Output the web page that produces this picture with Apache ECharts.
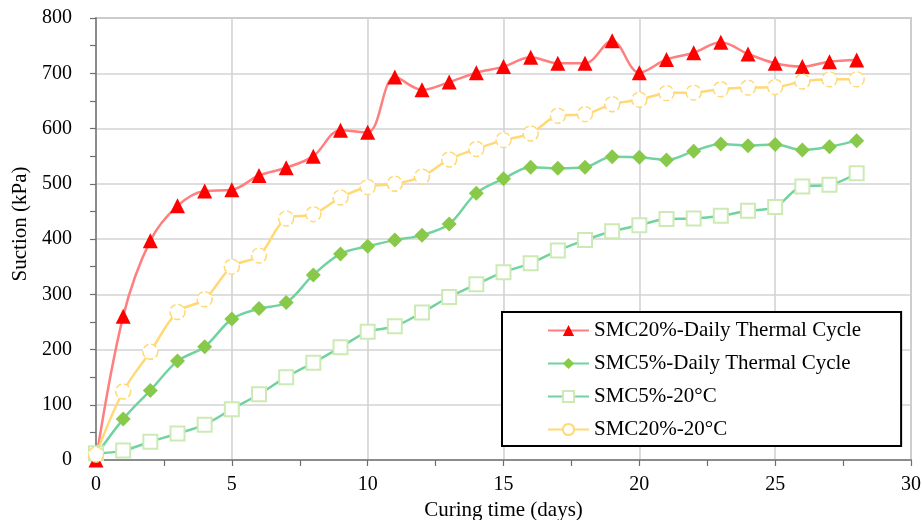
<!DOCTYPE html>
<html>
<head>
<meta charset="utf-8">
<script src="https://cdn.jsdelivr.net/npm/echarts@6/dist/echarts.min.js"></script>
<style>
  html, body { margin: 0; padding: 0; background: #fff; }
  #chart { width: 922px; height: 520px; }
</style>
</head>
<body>
<div id="chart"></div>
<script>
// Curing time in days
const days = [0,1,2,3,4,5,6,7,8,9,10,11,12,13,14,15,16,17,18,19,20,21,22,23,24,25,26,27,28];

// Suction (kPa) for each specimen
const smc20Cycle = [0,260,397,460,487,489,515,529,550,597,593,693,670,684,701,712,729,718,718,759,701,725,737,756,735,718,712,721,724];
const smc5Cycle  = [8,74,126,179,205,255,274,285,335,373,387,398,407,427,483,509,530,528,530,549,548,543,559,572,569,571,561,567,578];
const smc5Const  = [12,17,33,48,64,92,119,150,176,204,232,242,267,295,318,340,356,379,398,414,425,436,437,442,451,458,495,498,519];
const smc20Const = [10,124,196,268,291,350,370,437,445,475,494,500,513,544,563,579,591,623,626,644,652,664,665,671,674,675,685,689,689];

const seriesNames = [
  'SMC20%-Daily Thermal Cycle',
  'SMC5%-Daily Thermal Cycle',
  'SMC5%-20\u00B0C',
  'SMC20%-20\u00B0C'
];

const xTicks = { min: 0, max: 30, interval: 5 };
const yTicks = { min: 0, max: 800, interval: 100 };

const FONT = '"Liberation Serif", "Times New Roman", serif';

function pairs(vals) { return days.map((d, i) => [d, vals[i]]); }

const chart = echarts.init(document.getElementById('chart'), null, { renderer: 'canvas' });

const axisCommon = {
  axisLine: { show: true, lineStyle: { color: '#8c8c8c', width: 2 } },
  axisTick: { show: true, inside: false, length: 6, lineStyle: { color: '#6e6e6e', width: 1.2 } },
  minorTick: { show: true, splitNumber: 2, length: 6, lineStyle: { color: '#6e6e6e', width: 1.2 } },
  splitLine: { show: true, lineStyle: { color: '#d3d3d3', width: 1.6 } },
  axisLabel: { color: '#000', fontFamily: FONT, fontSize: 20 },
  nameTextStyle: { color: '#000', fontFamily: FONT, fontSize: 21 }
};

chart.setOption({
  animation: false,
  backgroundColor: '#fff',
  grid: {
    left: 96, right: 11, top: 18, bottom: 60,
    containLabel: false,
    outerBoundsMode: 'none',
    show: true, borderColor: '#a0a0a0', borderWidth: 1.5
  },
  xAxis: Object.assign({}, axisCommon, {
    type: 'value',
    min: xTicks.min, max: xTicks.max, interval: xTicks.interval,
    name: 'Curing time (days)',
    nameLocation: 'middle',
    nameGap: 37,
    axisLabel: Object.assign({}, axisCommon.axisLabel, { margin: 15 })
  }),
  yAxis: Object.assign({}, axisCommon, {
    type: 'value',
    min: yTicks.min, max: yTicks.max, interval: yTicks.interval,
    name: 'Suction (kPa)',
    nameLocation: 'middle',
    nameGap: 64,
    nameTextStyle: Object.assign({}, axisCommon.nameTextStyle, { padding: [0, 0, 0, 30] }),
    axisLabel: Object.assign({}, axisCommon.axisLabel, { margin: 24 })
  }),
  legend: {
    orient: 'vertical',
    left: 502,
    top: 312,
    padding: [8, 40, 6, 45],
    itemWidth: 41,
    itemHeight: 14,
    itemGap: 12,
    borderColor: '#000',
    borderWidth: 2,
    backgroundColor: '#fff',
    textStyle: { color: '#000', fontFamily: FONT, fontSize: 21 },
    data: seriesNames
  },
  series: [
    {
      name: seriesNames[0],
      type: 'line',
      smooth: 0.35,
      data: pairs(smc20Cycle),
      symbol: 'triangle',
      symbolSize: 15,
      lineStyle: { color: '#ff7f7f', width: 2.5 },
      itemStyle: { color: '#ff0000', borderColor: '#ff0000', borderWidth: 0 }
    },
    {
      name: seriesNames[1],
      type: 'line',
      smooth: 0.35,
      data: pairs(smc5Cycle),
      symbol: 'diamond',
      symbolSize: 15,
      lineStyle: { color: '#72d3a0', width: 2.5 },
      itemStyle: { color: '#88c94a', borderColor: '#88c94a', borderWidth: 0 }
    },
    {
      name: seriesNames[2],
      type: 'line',
      smooth: 0.35,
      data: pairs(smc5Const),
      symbol: 'rect',
      symbolSize: 14,
      lineStyle: { color: '#72d3a0', width: 2.5 },
      itemStyle: { color: '#ffffff', borderColor: '#cdeab4', borderWidth: 2 }
    },
    {
      name: seriesNames[3],
      type: 'line',
      smooth: 0.35,
      data: pairs(smc20Const),
      symbol: 'circle',
      symbolSize: 15,
      lineStyle: { color: '#ffd976', width: 2.5 },
      itemStyle: { color: '#ffffff', borderColor: '#ffd976', borderWidth: 1.5, borderType: 'dashed' }
    }
  ]
});
</script>
</body>
</html>
